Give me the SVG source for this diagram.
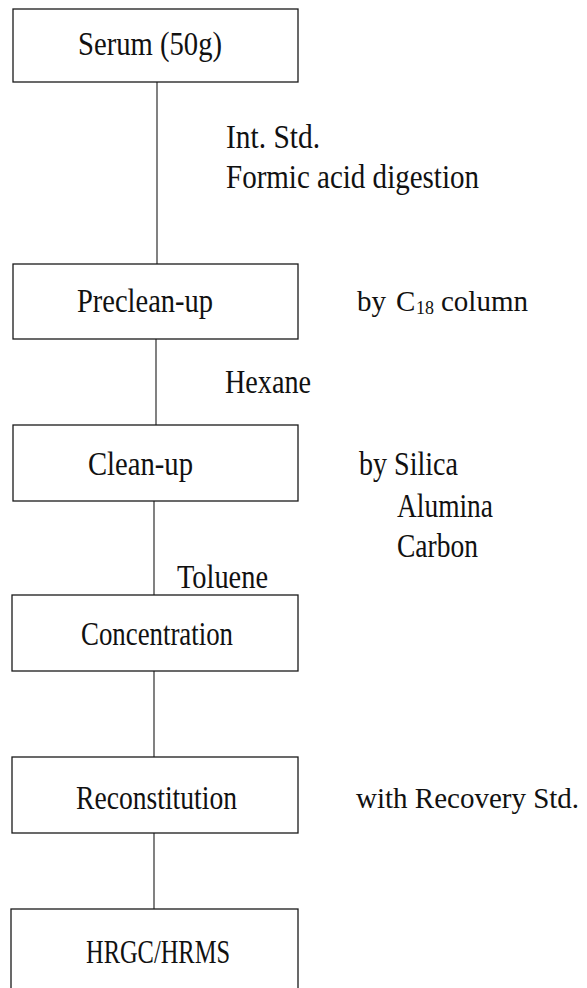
<svg xmlns="http://www.w3.org/2000/svg" width="587" height="988" viewBox="0 0 587 988">
<style>
.box{fill:#fff;stroke:#1a1a1a;stroke-width:1.3}
.t{font-family:"Liberation Serif","Times New Roman",serif;font-size:33px;fill:#111}
.s{font-family:"Liberation Serif","Times New Roman",serif;font-size:29px;fill:#111}
.c{stroke:#1a1a1a;stroke-width:1.1;fill:none}
</style>
<rect width="587" height="988" fill="#fff"/>
<g id="connectors">
<line class="c" x1="157" y1="82" x2="157" y2="264"/>
<line class="c" x1="156" y1="339" x2="156" y2="425"/>
<line class="c" x1="154" y1="501" x2="154" y2="595"/>
<line class="c" x1="154" y1="671" x2="154" y2="757"/>
<line class="c" x1="154" y1="833" x2="154" y2="909"/>
</g>
<g id="serum">
<rect class="box" x="13" y="9" width="285" height="73"/>
<text class="t" x="78" y="55" textLength="144" lengthAdjust="spacingAndGlyphs">Serum (50g)</text>
</g>
<g id="label-digestion">
<text class="t" x="226" y="148" textLength="94" lengthAdjust="spacingAndGlyphs">Int. Std.</text>
<text class="t" x="226" y="188" textLength="253" lengthAdjust="spacingAndGlyphs">Formic acid digestion</text>
</g>
<g id="preclean">
<rect class="box" x="13" y="264" width="285" height="75"/>
<text class="t" x="77" y="312" textLength="136" lengthAdjust="spacingAndGlyphs">Preclean-up</text>
</g>
<g id="label-c18">
<text class="s" y="311"><tspan x="357">by</tspan> <tspan x="396">C</tspan><tspan x="416" dy="3" font-size="18">18</tspan> <tspan x="441" dy="-3">column</tspan></text>
</g>
<g id="label-hexane">
<text class="t" x="225" y="393" textLength="86" lengthAdjust="spacingAndGlyphs">Hexane</text>
</g>
<g id="cleanup">
<rect class="box" x="13" y="425" width="285" height="76"/>
<text class="t" x="88" y="475" textLength="105" lengthAdjust="spacingAndGlyphs">Clean-up</text>
</g>
<g id="label-silica">
<text class="t" x="359" y="475" textLength="99" lengthAdjust="spacingAndGlyphs">by Silica</text>
<text class="t" x="397" y="517" textLength="96" lengthAdjust="spacingAndGlyphs">Alumina</text>
<text class="t" x="397" y="557" textLength="81" lengthAdjust="spacingAndGlyphs">Carbon</text>
</g>
<g id="label-toluene">
<text class="t" x="177" y="588" textLength="91" lengthAdjust="spacingAndGlyphs">Toluene</text>
</g>
<g id="concentration">
<rect class="box" x="12" y="595" width="286" height="76"/>
<text class="t" x="81" y="645" textLength="152" lengthAdjust="spacingAndGlyphs">Concentration</text>
</g>
<g id="reconstitution">
<rect class="box" x="12" y="757" width="286" height="76"/>
<text class="t" x="76" y="809" textLength="161" lengthAdjust="spacingAndGlyphs">Reconstitution</text>
</g>
<g id="label-recovery">
<text class="s" x="356" y="808">with Recovery Std.</text>
</g>
<g id="hrgc">
<rect class="box" x="11" y="909" width="287" height="100"/>
<text class="t" x="86" y="963" textLength="144" lengthAdjust="spacingAndGlyphs">HRGC/HRMS</text>
</g>
</svg>
